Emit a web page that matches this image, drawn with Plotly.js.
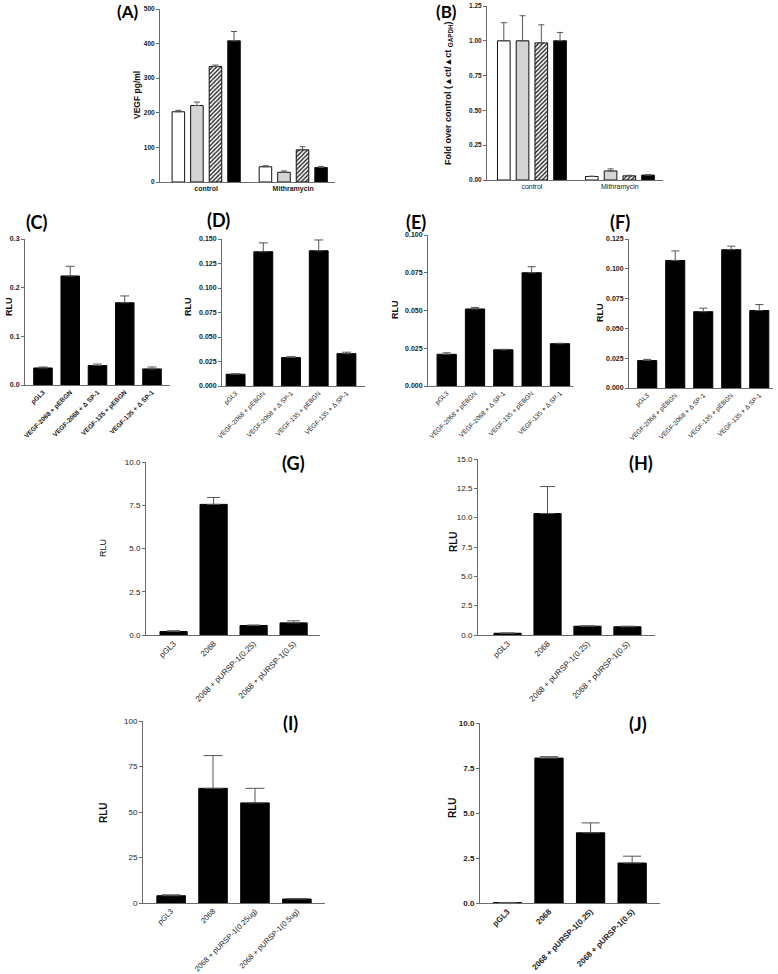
<!DOCTYPE html>
<html>
<head>
<meta charset="utf-8">
<script src="https://cdn.plot.ly/plotly-3.0.1.min.js"></script>
<style>
  html, body { margin: 0; padding: 0; background: #fff; }
  #chart { width: 778px; height: 974px; }
</style>
</head>
<body>
<div id="chart"></div>
<script>
// (A) VEGF protein and (B) mRNA, four treatments in two conditions
const abCategories = ['control', 'Mithramycin'];
const aMeans = [[203, 44], [221, 28], [334, 93], [408, 42]];
const aErrors = [[4, 3], [10, 4], [4, 9], [27, 3]];
const bMeans = [[1.0, 0.025], [1.0, 0.065], [0.985, 0.03], [1.0, 0.035]];
const bErrors = [[0.13, 0.003], [0.18, 0.015], [0.13, 0.004], [0.06, 0.003]];

// (C)-(F) promoter constructs
const vegfLabels = ['pGL3', 'VEGF-2068 + pEBGN', 'VEGF-2068 + Δ SP-1', 'VEGF-135 + pEBGN', 'VEGF-135 + Δ SP-1'];
const cMeans = [0.035, 0.224, 0.040, 0.169, 0.033];
const cErrors = [0.002, 0.020, 0.003, 0.014, 0.004];
const dMeans = [0.012, 0.137, 0.029, 0.138, 0.033];
const dErrors = [0.0005, 0.009, 0.001, 0.011, 0.0015];
const eMeans = [0.021, 0.051, 0.024, 0.075, 0.028];
const eErrors = [0.001, 0.001, 0.0003, 0.004, 0.0003];
const fMeans = [0.023, 0.107, 0.064, 0.116, 0.065];
const fErrors = [0.001, 0.008, 0.003, 0.003, 0.005];

// (G)-(J) pURSP-1 cotransfection
const urspLabels = ['pGL3', '2068', '2068 + pURSP-1(0.25)', '2068 + pURSP-1(0.5)'];
const urspLabelsUg = ['pGL3', '2068', '2068 + pURSP-1(0.25ug)', '2068 + pURSP-1(0.5ug)'];
const gMeans = [0.2, 7.55, 0.55, 0.7];
const gErrors = [0.05, 0.4, 0.03, 0.12];
const hMeans = [0.15, 10.35, 0.75, 0.7];
const hErrors = [0.02, 2.3, 0.03, 0.05];
const iMeans = [4.0, 63, 55, 2.2];
const iErrors = [0.5, 18, 8, 0.3];
const jMeans = [0.02, 8.05, 3.9, 2.22];
const jErrors = [0.01, 0.08, 0.55, 0.38];

const W = 778, H = 974;
const px = x => x / W;
const py = y => 1 - y / H;
const FONT = 'Liberation Sans, Arial, sans-serif';
const AXIS_COLOR = '#6b6b6b';

// panel geometry in pixels: box = [left, right, top, bottom]
const panels = [
  { id: 'A', box: [160, 335, 9, 182], xr: [-0.53, 1.48], yr: [0, 500], dtick: 100, fmt: 'd',
    tick: 6.5, tickBold: true, cat: 7, catBold: true, angle: 0,
    title: 'VEGF pg/ml', tx: 137, ty: 95, tSize: 8.5, tBold: true, lx: 128, ly: 12, lSize: 17 },
  { id: 'B', box: [487, 663, 6, 180], xr: [-0.51, 1.49], yr: [0, 1.25], dtick: 0.25, fmt: '.2f',
    tick: 6.5, tickBold: true, cat: 7, catBold: false, angle: 0,
    title: 'Fold over control (▲ct/▲ct <sub>GAPDH</sub>)', tx: 448, ty: 93, tSize: 9, tBold: true, lx: 446, ly: 12, lSize: 17 },
  { id: 'C', box: [25, 170, 239, 385], xr: [-0.66, 4.66], yr: [0, 0.3], dtick: 0.1, fmt: '.1f',
    tick: 7, tickBold: true, cat: 6.5, catBold: true, angle: -45,
    title: 'RLU', tx: 9, ty: 307, tSize: 9, tBold: true, lx: 36, ly: 222, lSize: 18 },
  { id: 'D', box: [222, 365, 239, 386], xr: [-0.49, 4.67], yr: [0, 0.15], dtick: 0.025, fmt: '.3f',
    tick: 7, tickBold: true, cat: 6.5, catBold: false, angle: -45,
    title: 'RLU', tx: 188, ty: 307, tSize: 9, tBold: true, lx: 218, ly: 220, lSize: 18 },
  { id: 'E', box: [428, 573, 235, 386], xr: [-0.66, 4.46], yr: [0, 0.1], dtick: 0.025, fmt: '.3f',
    tick: 7, tickBold: true, cat: 6.5, catBold: false, angle: -45,
    title: 'RLU', tx: 395, ty: 310, tSize: 9, tBold: true, lx: 416, ly: 222, lSize: 18 },
  { id: 'F', box: [629, 773, 239, 388], xr: [-0.65, 4.49], yr: [0, 0.125], dtick: 0.025, fmt: '.3f',
    tick: 7, tickBold: true, cat: 6.5, catBold: false, angle: -45,
    title: 'RLU', tx: 600, ty: 313, tSize: 9, tBold: true, lx: 620, ly: 222, lSize: 18 },
  { id: 'G', box: [146, 320, 462, 635], xr: [-0.69, 3.66], yr: [0, 10], dtick: 2.5, fmt: '.1f',
    tick: 8, tickBold: false, cat: 8, catBold: false, angle: -45,
    title: 'RLU', tx: 103, ty: 548, tSize: 9, tBold: false, lx: 293, ly: 463, lSize: 18 },
  { id: 'H', box: [478, 655, 459, 635], xr: [-0.74, 3.69], yr: [0, 15], dtick: 2.5, fmt: '.1f',
    tick: 8, tickBold: false, cat: 8, catBold: false, angle: -45,
    title: 'RLU', tx: 453, ty: 542, tSize: 10, tBold: true, lx: 641, ly: 463, lSize: 18 },
  { id: 'I', box: [143, 325, 721, 903], xr: [-0.67, 3.67], yr: [0, 100], dtick: 25, fmt: 'd',
    tick: 8, tickBold: false, cat: 7.5, catBold: false, angle: -45,
    title: 'RLU', tx: 103, ty: 813, tSize: 10, tBold: true, lx: 290, ly: 723, lSize: 18 },
  { id: 'J', box: [480, 660, 723, 903], xr: [-0.66, 3.67], yr: [0, 10], dtick: 2.5, fmt: '.1f',
    tick: 8, tickBold: true, cat: 8, catBold: true, angle: -45,
    title: 'RLU', tx: 452, ty: 808, tSize: 10, tBold: true, lx: 638, ly: 724, lSize: 18 }
];

const singleSeries = {
  C: [vegfLabels, cMeans, cErrors, 4.5],
  D: [vegfLabels, dMeans, dErrors, 4.5],
  E: [vegfLabels, eMeans, eErrors, 4],
  F: [vegfLabels, fMeans, fErrors, 4],
  G: [urspLabels, gMeans, gErrors, 6.5],
  H: [urspLabels, hMeans, hErrors, 7.5],
  I: [urspLabelsUg, iMeans, iErrors, 9.5],
  J: [urspLabels, jMeans, jErrors, 9]
};

const traces = [];
const layout = {
  width: W,
  height: H,
  margin: { l: 0, r: 0, t: 0, b: 0 },
  paper_bgcolor: 'white',
  plot_bgcolor: 'white',
  showlegend: false,
  barmode: 'overlay',
  bargap: 0.32,
  font: { family: FONT, color: '#000' },
  annotations: []
};

// four bar styles for A and B: open, grey, hatched, filled
const groupStyles = [
  { color: 'white' },
  { color: '#d4d4d4' },
  { color: 'white', pattern: { shape: '/', fgcolor: '#222', bgcolor: 'white', size: 3, solidity: 0.45 } },
  { color: 'black' }
];
const barWidth = 0.144;
const barPitch = 0.213;
const firstOffset = -0.391;

panels.forEach((p, k) => {
  const n = k === 0 ? '' : String(k + 1);
  const xa = 'x' + n, ya = 'y' + n;

  layout['xaxis' + n] = {
    domain: [px(p.box[0]), px(p.box[1])],
    anchor: ya,
    type: 'category',
    range: p.xr,
    showline: true,
    linecolor: AXIS_COLOR,
    linewidth: 1,
    ticks: '',
    showgrid: false,
    zeroline: false,
    tickangle: p.angle,
    tickfont: { family: FONT, size: p.cat, weight: p.catBold ? 'bold' : 'normal', color: '#1a1a1a' }
  };
  layout['yaxis' + n] = {
    domain: [py(p.box[3]), py(p.box[2])],
    anchor: xa,
    range: p.yr,
    dtick: p.dtick,
    tick0: 0,
    tickformat: p.fmt,
    showline: true,
    linecolor: AXIS_COLOR,
    linewidth: 1,
    ticks: 'outside',
    ticklen: 3,
    tickcolor: AXIS_COLOR,
    showgrid: false,
    zeroline: false,
    tickfont: { family: FONT, size: p.tick, weight: p.tickBold ? 'bold' : 'normal', color: '#1a1a1a' }
  };

  if (p.id === 'A' || p.id === 'B') {
    const means = p.id === 'A' ? aMeans : bMeans;
    const errs = p.id === 'A' ? aErrors : bErrors;
    means.forEach((vals, s) => {
      traces.push({
        type: 'bar',
        x: abCategories,
        y: vals,
        xaxis: xa,
        yaxis: ya,
        width: barWidth,
        offset: firstOffset + s * barPitch,
        marker: Object.assign({ line: { color: '#111', width: 1 } }, groupStyles[s]),
        error_y: {
          type: 'data', symmetric: false, array: errs[s], arrayminus: [0, 0],
          color: '#555', thickness: 1, width: 3
        },
        hoverinfo: 'skip'
      });
    });
  } else {
    const [cats, vals, errs, capW] = singleSeries[p.id];
    traces.push({
      type: 'bar',
      x: cats,
      y: vals,
      xaxis: xa,
      yaxis: ya,
      marker: { color: 'black', line: { color: 'black', width: 1 } },
      error_y: {
        type: 'data', symmetric: false, array: errs, arrayminus: vals.map(() => 0),
        color: '#555', thickness: 1, width: capW
      },
      hoverinfo: 'skip'
    });
  }

  // y axis title
  layout.annotations.push({
    text: p.tBold ? '<b>' + p.title + '</b>' : p.title,
    x: px(p.tx), y: py(p.ty), xref: 'paper', yref: 'paper',
    textangle: -90, showarrow: false,
    xanchor: 'center', yanchor: 'middle',
    font: { family: FONT, size: p.tSize, color: '#111' }
  });
  // panel letter
  layout.annotations.push({
    text: '<b>(' + p.id + ')</b>',
    x: px(p.lx), y: py(p.ly), xref: 'paper', yref: 'paper',
    showarrow: false, xanchor: 'center', yanchor: 'middle',
    font: { family: 'Lato, Open Sans, sans-serif', size: p.lSize, color: '#000' }
  });
});

Plotly.newPlot('chart', traces, layout, { displayModeBar: false, staticPlot: true });
</script>
</body>
</html>
